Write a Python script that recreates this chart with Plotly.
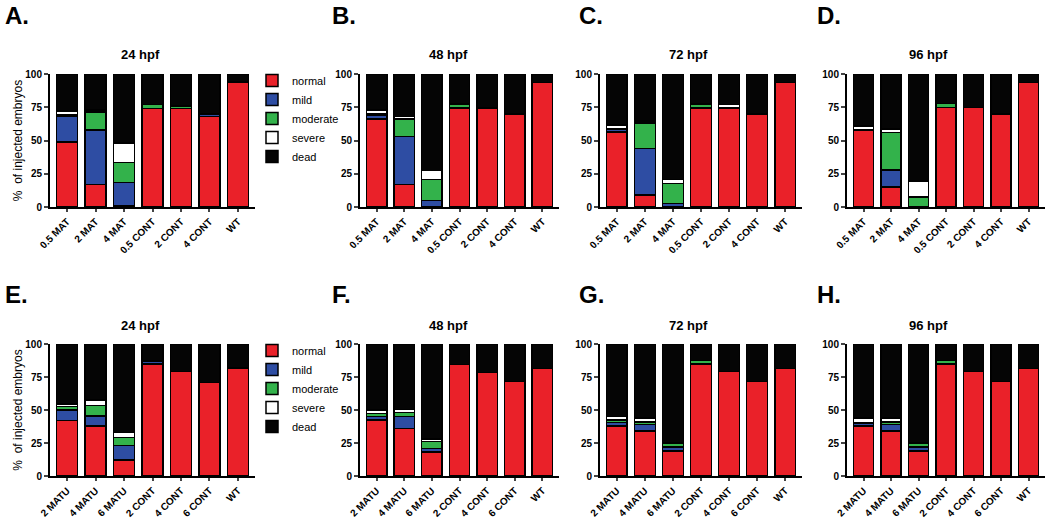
import plotly.graph_objects as go

# ---------------- data ----------------
categories_top = ["0.5 MAT", "2 MAT", "4 MAT", "0.5 CONT", "2 CONT", "4 CONT", "WT"]
categories_bottom = ["2 MATU", "4 MATU", "6 MATU", "2 CONT", "4 CONT", "6 CONT", "WT"]
series_names = ["normal", "mild", "moderate", "severe", "dead"]
panel_titles = ["24 hpf", "48 hpf", "72 hpf", "96 hpf", "24 hpf", "48 hpf", "72 hpf", "96 hpf"]
panel_letters = ["A.", "B.", "C.", "D.", "E.", "F.", "G.", "H."]
y_ticks = [0, 25, 50, 75, 100]

# Panel A (24 hpf)
normal_A = [49, 17, 1, 74, 74, 68, 94]
mild_A = [19, 41, 17.5, 0, 0, 2, 0]
moderate_A = [1, 13.5, 15, 3, 2, 0, 0]
severe_A = [3, 1.5, 14.5, 0, 0, 0, 0]
dead_A = [28, 27, 52, 23, 24, 30, 6]

# Panel B (48 hpf)
normal_B = [66, 17, 0.5, 74.5, 74.5, 70, 93.5]
mild_B = [3, 36, 4.5, 0, 0, 0, 0]
moderate_B = [1, 13, 15.5, 3, 0, 0, 0]
severe_B = [3, 2, 7, 0, 0, 0, 0]
dead_B = [27, 32, 72.5, 22.5, 25.5, 30, 6.5]

# Panel C (72 hpf)
normal_C = [56.5, 9, 0, 74.5, 74.5, 70, 93.5]
mild_C = [2, 35, 2.5, 0, 0, 0, 0]
moderate_C = [0.5, 19, 15, 3, 0, 0, 0]
severe_C = [2.5, 1.5, 3, 0, 2.5, 0, 0]
dead_C = [38.5, 35.5, 79.5, 22.5, 23, 30, 6.5]

# Panel D (96 hpf)
normal_D = [57.5, 15, 0.5, 75, 75, 70, 93.5]
mild_D = [0, 13, 0, 0, 0, 0, 0]
moderate_D = [0.5, 28, 7, 3, 0, 0, 0]
severe_D = [3, 2.5, 12, 0, 0, 0, 0]
dead_D = [39, 41.5, 80.5, 22, 25, 30, 6.5]

# Panel E (24 hpf)
normal_E = [42, 38, 12, 85, 79, 71, 82]
mild_E = [8, 7.5, 11, 2, 0, 0, 0]
moderate_E = [2.5, 8, 6, 0, 0, 0, 0]
severe_E = [2, 4, 4, 0, 0, 0, 0]
dead_E = [45.5, 42.5, 67, 13, 21, 29, 18]

# Panel F (48 hpf)
normal_F = [42.5, 36, 18, 84.5, 78.5, 71.5, 81.5]
mild_F = [2.5, 9, 3, 0, 0, 0, 0]
moderate_F = [2.5, 3, 5, 0, 0, 0, 0]
severe_F = [2.5, 2.5, 2, 0, 0, 0, 0]
dead_F = [50, 49.5, 72, 15.5, 21.5, 28.5, 18.5]

# Panel G (72 hpf)
normal_G = [38, 34, 19, 85, 79, 71.5, 81.5]
mild_G = [2.5, 5, 3, 0, 0, 0, 0]
moderate_G = [2, 2, 2.5, 2.5, 0, 0, 0]
severe_G = [2.5, 3, 0.5, 0, 0, 0, 0]
dead_G = [55, 56, 75, 12.5, 21, 28.5, 18.5]

# Panel H (96 hpf)
normal_H = [38, 34, 19, 85, 79, 71.5, 81.5]
mild_H = [2, 5, 3, 0, 0, 0, 0]
moderate_H = [0.5, 2, 2.5, 2.5, 0, 0, 0]
severe_H = [3.5, 3, 0.5, 0, 0, 0, 0]
dead_H = [56, 56, 75, 12.5, 21, 28.5, 18.5]

panels = [
    (categories_top, [normal_A, mild_A, moderate_A, severe_A, dead_A]),
    (categories_top, [normal_B, mild_B, moderate_B, severe_B, dead_B]),
    (categories_top, [normal_C, mild_C, moderate_C, severe_C, dead_C]),
    (categories_top, [normal_D, mild_D, moderate_D, severe_D, dead_D]),
    (categories_bottom, [normal_E, mild_E, moderate_E, severe_E, dead_E]),
    (categories_bottom, [normal_F, mild_F, moderate_F, severe_F, dead_F]),
    (categories_bottom, [normal_G, mild_G, moderate_G, severe_G, dead_G]),
    (categories_bottom, [normal_H, mild_H, moderate_H, severe_H, dead_H]),
]

# ---------------- style ----------------
W, H = 1050, 519
FONT = "Liberation Sans, Arial, sans-serif"
colors = ["#EA2129", "#2E4DA3", "#33B24B", "#FFFFFF", "#050505"]
x_px = [(50, 255), (360, 559), (600, 802), (847, 1045)]
row_y_px = [(74, 207), (344, 476)]  # (top=100, bottom=0)
title_px = [140, 448, 688, 928]
title_y_px = [55, 325]
letter_px = [3, 330, 577, 815]
letter_y_px = [15, 294]

fig = go.Figure()

for i, (cats, vals) in enumerate(panels):
    ax = "" if i == 0 else str(i + 1)
    row = i // 4
    for s, (name, v) in enumerate(zip(series_names, vals)):
        fig.add_trace(go.Bar(
            x=cats, y=v, name=name,
            marker=dict(color=colors[s], line=dict(color="black", width=1.5)),
            xaxis="x" + ax, yaxis="y" + ax,
            showlegend=(i % 4 == 0),
            legend="legend" if row == 0 else "legend2",
            legendgroup=name + str(row),
        ))

layout = dict(
    width=W, height=H,
    margin=dict(l=0, r=0, t=0, b=0, autoexpand=False),
    paper_bgcolor="white", plot_bgcolor="white",
    barmode="stack", bargap=0.26,
    font=dict(family=FONT, color="black"),
    showlegend=True,
)

tickfont = dict(family=FONT, size=10, color="black", weight="bold")
annotations = []
for i in range(8):
    ax = "" if i == 0 else str(i + 1)
    row, col = divmod(i, 4)
    x0, x1 = x_px[col]
    yt, yb = row_y_px[row]
    layout["xaxis" + ax] = dict(
        domain=[x0 / W, x1 / W], anchor="y" + ax, type="category",
        range=[-0.6, 6.6], tickangle=-45, ticks="outside", ticklen=3, tickwidth=2,
        showline=True, linewidth=2, linecolor="black", showgrid=False, zeroline=False,
        tickfont=tickfont, fixedrange=True, automargin=False,
    )
    yax = dict(
        domain=[1 - yb / H, 1 - yt / H], anchor="x" + ax, range=[0, 100],
        tickvals=y_ticks, ticks="outside", ticklen=4, tickwidth=2,
        showline=True, linewidth=2, linecolor="black", showgrid=False, zeroline=False,
        tickfont=dict(family=FONT, size=10, color="black", weight="bold"),
        automargin=False,
    )
    if col == 0:
        yax["title"] = dict(text="%  of injected embryos",
                            font=dict(family=FONT, size=12, color="black"), standoff=0)
    layout["yaxis" + ax] = yax
    annotations.append(dict(
        text=panel_titles[i], x=title_px[col] / W, y=1 - title_y_px[row] / H,
        xref="paper", yref="paper", xanchor="center", yanchor="middle", showarrow=False,
        font=dict(family=FONT, size=13, color="black", weight="bold"),
    ))
    annotations.append(dict(
        text=panel_letters[i], x=letter_px[col] / W, y=1 - letter_y_px[row] / H,
        xref="paper", yref="paper", xanchor="left", yanchor="middle", showarrow=False,
        font=dict(family=FONT, size=24, color="black", weight="bold"),
    ))

legend_style = dict(
    xref="paper", yref="paper", x=252 / W, xanchor="left", yanchor="top",
    font=dict(family=FONT, size=11, color="black"), bgcolor="rgba(0,0,0,0)",
    traceorder="normal", tracegroupgap=0, itemclick=False, itemdoubleclick=False,
)
layout["legend"] = dict(legend_style, y=1 - 66 / H)
layout["legend2"] = dict(legend_style, y=1 - 336 / H)
layout["annotations"] = annotations

fig.update_layout(**layout)
fig.write_html(
    "out.html",
    config={"displayModeBar": False},
    post_script="document.body.style.margin='0';document.body.style.overflow='hidden';",
)
